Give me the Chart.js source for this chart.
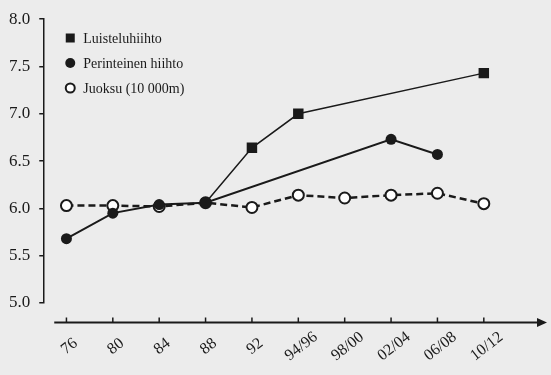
<!DOCTYPE html>
<html>
<head>
<meta charset="utf-8">
<script src="https://cdn.jsdelivr.net/npm/chart.js@4.4.1/dist/chart.umd.min.js"></script>
<style>
  html, body { margin: 0; padding: 0; background: #ececec; }
  #wrap { width: 551px; height: 375px; }
</style>
</head>
<body>
<div id="wrap"><canvas id="growthChart" width="551" height="375"></canvas></div>
<script>
// categories (seasons)
const labels = ['76', '80', '84', '88', '92', '94/96', '98/00', '02/04', '06/08', '10/12'];
// series values
const luistelu = [null, null, null, 6.06, 6.64, 7.00, null, null, null, 7.43];
const perinteinen = [5.68, 5.95, 6.04, 6.06, null, null, null, 6.73, 6.57, null];
const juoksu = [6.03, 6.03, 6.02, 6.06, 6.01, 6.14, 6.11, 6.14, 6.16, 6.05];
const seriesNames = ['Luisteluhiihto', 'Perinteinen hiihto', 'Juoksu (10 000m)'];
const yTicks = [5.0, 5.5, 6.0, 6.5, 7.0, 7.5, 8.0];

const ink = '#1a1a1a';
const serif = '"Liberation Serif", "Times New Roman", serif';

// draws the x axis with arrow + rotated labels, and the legend
const decor = {
  id: 'decor',
  afterDraw(chart) {
    const ctx = chart.ctx;
    const x = chart.scales.x;
    const area = chart.chartArea;
    const axisY = area.bottom + 19.5;

    ctx.save();
    ctx.strokeStyle = ink;
    ctx.fillStyle = ink;
    ctx.lineWidth = 2;
    ctx.beginPath();
    ctx.moveTo(area.left + 11, axisY);
    ctx.lineTo(chart.width - 12, axisY);
    ctx.stroke();
    // arrow head
    ctx.beginPath();
    ctx.moveTo(chart.width - 4, axisY);
    ctx.lineTo(chart.width - 14, axisY - 4.5);
    ctx.lineTo(chart.width - 14, axisY + 4.5);
    ctx.closePath();
    ctx.fill();

    ctx.font = '16px ' + serif;
    ctx.textAlign = 'center';
    ctx.textBaseline = 'middle';
    labels.forEach((lab, i) => {
      const px = x.getPixelForValue(i);
      ctx.lineWidth = 1.5;
      ctx.beginPath();
      ctx.moveTo(px, axisY);
      ctx.lineTo(px, axisY - 5);
      ctx.stroke();
      ctx.save();
      ctx.translate(px + 3, axisY + 24);
      ctx.rotate(-38 * Math.PI / 180);
      ctx.fillText(lab, 0, 0);
      ctx.restore();
    });

    // legend
    const lx = area.left + 27;
    const rows = [38, 63, 88];
    ctx.font = '14px ' + serif;
    ctx.textAlign = 'left';
    ctx.textBaseline = 'middle';
    rows.forEach((ry, i) => {
      ctx.fillStyle = ink;
      ctx.strokeStyle = ink;
      if (i === 0) {
        ctx.fillRect(lx - 4.5, ry - 4.5, 9, 9);
      } else if (i === 1) {
        ctx.beginPath();
        ctx.arc(lx, ry, 5, 0, Math.PI * 2);
        ctx.fill();
      } else {
        ctx.lineWidth = 2;
        ctx.fillStyle = '#ffffff';
        ctx.beginPath();
        ctx.arc(lx, ry, 4.5, 0, Math.PI * 2);
        ctx.fill();
        ctx.stroke();
        ctx.fillStyle = ink;
      }
      ctx.fillText(seriesNames[i], lx + 13, ry + 1);
    });
    ctx.restore();
  }
};

new Chart(document.getElementById('growthChart').getContext('2d'), {
  type: 'line',
  data: {
    labels: labels,
    datasets: [
      {
        label: seriesNames[0],
        data: luistelu,
        borderColor: ink,
        borderWidth: 1.5,
        pointStyle: 'rect',
        pointRadius: ctx => (ctx.dataIndex === 3 ? 0 : 7.4),
        pointBackgroundColor: ink,
        pointBorderWidth: 0,
        spanGaps: true,
        tension: 0
      },
      {
        label: seriesNames[1],
        data: perinteinen,
        borderColor: ink,
        borderWidth: 2,
        pointStyle: 'circle',
        pointRadius: 5.5,
        pointBackgroundColor: ink,
        pointBorderWidth: 0,
        spanGaps: true,
        tension: 0
      },
      {
        label: seriesNames[2],
        data: juoksu,
        borderColor: ink,
        borderWidth: 2.5,
        borderDash: [7, 4],
        pointStyle: 'circle',
        pointRadius: 5.5,
        pointBackgroundColor: '#ffffff',
        pointBorderColor: ink,
        pointBorderWidth: 2,
        tension: 0
      }
    ]
  },
  options: {
    responsive: false,
    animation: false,
    layout: { padding: { left: 0, right: 44, top: 12, bottom: 72 } },
    plugins: {
      legend: { display: false },
      tooltip: { enabled: false }
    },
    scales: {
      x: {
        display: false,
        offset: true
      },
      y: {
        min: 5,
        max: 8,
        afterBuildTicks: axis => { axis.ticks = yTicks.map(v => ({ value: v })); },
        border: { display: true, color: ink, width: 1.5 },
        grid: { drawOnChartArea: false, drawTicks: true, tickLength: 4, color: ink, lineWidth: 1.5 },
        ticks: {
          color: ink,
          padding: 9,
          font: { family: serif, size: 17 },
          callback: v => Number(v).toFixed(1)
        }
      }
    }
  },
  plugins: [decor]
});
</script>
</body>
</html>
